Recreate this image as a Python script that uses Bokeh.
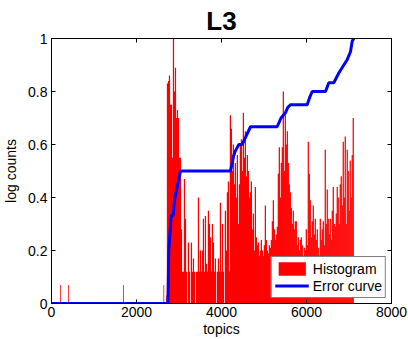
import numpy as np
from bokeh.plotting import figure
from bokeh.models import Range1d, LinearAxis, FixedTicker, Legend, LegendItem
from bokeh.embed import file_html
from bokeh.resources import INLINE

title_text = "L3"
x_label = "topics"
y_label = "log counts"
x_ticks = [0, 2000, 4000, 6000, 8000]
y_ticks = [0, 0.2, 0.4, 0.6, 0.8, 1]
y_tick_labels = ["0", "0.2", "0.4", "0.6", "0.8", "1"]

# isolated early histogram bars
early_topics = [212, 400, 1694, 2643, 2706]
early_counts = [0.07, 0.07, 0.07, 0.07, 0.03]

# main histogram (one bin per ~23.5 topics starting at 2729)
hist_start = 2729
hist_bin = 23.5
hist_counts = [
    0.83, 0.84, 0.86, 0.75, 0.75, 0.55, 1.00, 0.80, 0.89, 0.70,
    0.73, 0.70, 0.55, 0.55, 0.28, 0.12, 0.12, 0.47, 0.32, 0.12,
    0.00, 0.23, 0.12, 0.00, 0.23, 0.12, 0.17, 0.12, 0.00, 0.12,
    0.12, 0.40, 0.12, 0.20, 0.12, 0.20, 0.32, 0.12, 0.33, 0.15,
    0.12, 0.35, 0.30, 0.25, 0.12, 0.30, 0.23, 0.12, 0.17, 0.00,
    0.12, 0.17, 0.12, 0.38, 0.12, 0.30, 0.12, 0.00, 0.35, 0.20,
    0.42, 0.46, 0.12, 0.71, 0.66, 0.50, 0.60, 0.45, 0.53, 0.40,
    0.56, 0.30, 0.45, 0.60, 0.62, 0.50, 0.72, 0.55, 0.65, 0.48,
    0.56, 0.50, 0.40, 0.42, 0.46, 0.28, 0.34, 0.20, 0.44, 0.25,
    0.22, 0.23, 0.18, 0.20, 0.24, 0.20, 0.18, 0.22, 0.37, 0.24,
    0.20, 0.19, 0.22, 0.21, 0.24, 0.31, 0.39, 0.28, 0.24, 0.26,
    0.29, 0.49, 0.59, 0.40, 0.53, 0.59, 0.80, 0.50, 0.71, 0.60,
    0.65, 0.53, 0.45, 0.42, 0.36, 0.30, 0.35, 0.28, 0.31, 0.31,
    0.22, 0.25, 0.20, 0.24, 0.25, 0.22, 0.18, 0.21, 0.20, 0.28,
    0.22, 0.61, 0.49, 0.39, 0.25, 0.31, 0.37, 0.26, 0.32, 0.24,
    0.28, 0.21, 0.18, 0.32, 0.24, 0.28, 0.31, 0.22, 0.58, 0.30,
    0.43, 0.32, 0.26, 0.32, 0.24, 0.35, 0.44, 0.30, 0.29, 0.34,
    0.44, 0.40, 0.30, 0.45, 0.48, 0.37, 0.61, 0.40, 0.63, 0.30,
    0.58, 0.50, 0.35, 0.54, 0.40, 0.56, 0.70,
]
hist_topics = hist_start + hist_bin * np.arange(len(hist_counts))

# error curve
err_topics = [0, 2740, 2760, 2816, 2863, 2894, 2957, 3035, 4212, 4290, 4330,
              4408, 4486, 4565, 4682, 5310, 5400, 5506, 5560, 5624, 6016,
              6080, 6134, 6447, 6525, 6643, 6760, 6878, 6957, 7035, 7075, 7114]
err_values = [0, 0, 0.2, 0.333, 0.333, 0.39, 0.44, 0.5, 0.5, 0.56, 0.577,
              0.6, 0.6, 0.627, 0.667, 0.667, 0.70, 0.72, 0.74, 0.75, 0.75,
              0.78, 0.80, 0.80, 0.833, 0.833, 0.87, 0.90, 0.92, 0.95, 0.99, 1.0]

FONT = "Liberation Sans"

p = figure(width=408, height=339, output_backend="svg", toolbar_location=None,
           x_range=Range1d(0, 8000), y_range=Range1d(0, 1),
           min_border_left=51, min_border_right=17, min_border_top=37,
           min_border_bottom=35, title=title_text)
p.background_fill_color = "white"
p.border_fill_color = "white"
p.outline_line_color = "black"
p.grid.visible = False

p.title.align = "center"
p.title.text_font = FONT
p.title.text_font_size = "26px"
p.title.text_font_style = "bold"
p.title.text_color = "black"
p.title.offset = 0
p.title.standoff = 6

r_hist = p.vbar(x=hist_topics, top=hist_counts, width=hist_bin * 1.25, bottom=0,
                fill_color="#ff0000", line_color=None)
p.vbar(x=early_topics, top=early_counts, width=18, bottom=0,
       fill_color="#ff0000", line_color=None)
r_err = p.line(err_topics, err_values, line_color="#0000ff", line_width=3)

xa = p.xaxis[0]
ya = p.yaxis[0]
xa.ticker = FixedTicker(ticks=x_ticks)
ya.ticker = FixedTicker(ticks=y_ticks)
ya.major_label_overrides = {t: l for t, l in zip(y_ticks, y_tick_labels)}
xa.axis_label = x_label
ya.axis_label = y_label
for ax in (xa, ya):
    ax.major_tick_in = 4
    ax.major_tick_out = 0
    ax.minor_tick_line_color = None
    ax.axis_line_color = "black"
    ax.major_tick_line_color = "black"
    ax.major_label_text_font = FONT
    ax.major_label_text_font_size = "14px"
    ax.major_label_text_color = "black"
    ax.axis_label_text_font = FONT
    ax.axis_label_text_font_size = "14px"
    ax.axis_label_text_font_style = "normal"
    ax.axis_label_text_color = "black"
xa.major_label_standoff = 3
xa.axis_label_standoff = 1
ya.major_label_standoff = 4
ya.axis_label_standoff = 6

top_ax = LinearAxis(ticker=FixedTicker(ticks=x_ticks))
right_ax = LinearAxis(ticker=FixedTicker(ticks=y_ticks))
for ax in (top_ax, right_ax):
    ax.major_tick_in = 4
    ax.major_tick_out = 0
    ax.minor_tick_line_color = None
    ax.axis_line_color = "black"
    ax.major_tick_line_color = "black"
    ax.major_label_text_font_size = "0px"
    ax.major_label_standoff = 0
    ax.major_label_text_alpha = 0
p.add_layout(top_ax, "above")
p.add_layout(right_ax, "right")

legend = Legend(items=[LegendItem(label="Histogram", renderers=[r_hist]),
                       LegendItem(label="Error curve", renderers=[r_err])],
                location="bottom_right")
legend.margin = 5
legend.padding = 3
legend.spacing = 0
legend.glyph_width = 34
legend.glyph_height = 17
legend.label_height = 17
legend.label_standoff = 4
legend.label_text_font = FONT
legend.label_text_font_size = "14px"
legend.label_text_color = "black"
legend.border_line_color = "black"
legend.border_line_width = 1
legend.background_fill_color = "white"
legend.background_fill_alpha = 1
p.add_layout(legend)

open("out.html", "w").write(file_html(p, INLINE))
